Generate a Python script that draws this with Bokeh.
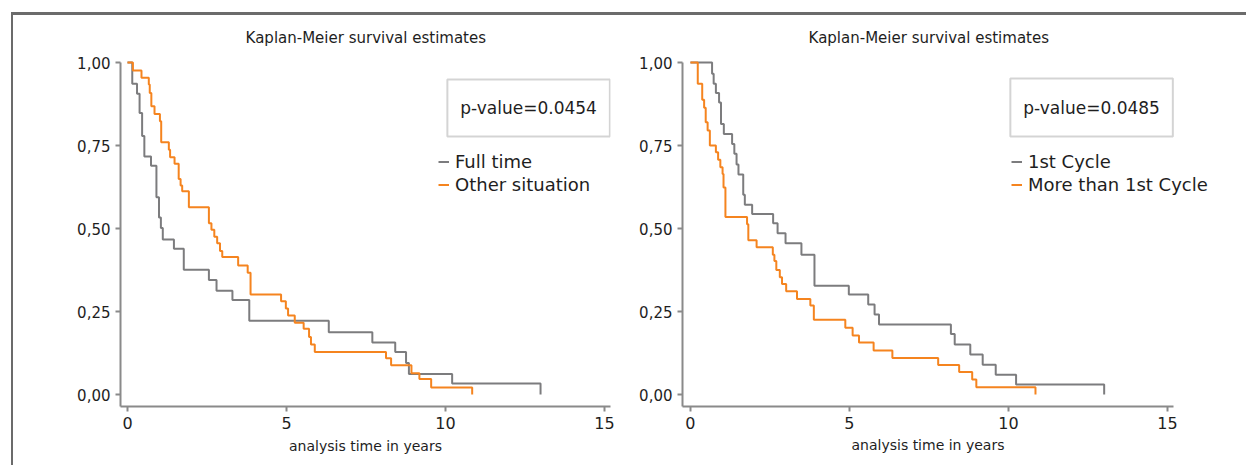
from bokeh.plotting import figure
from bokeh.layouts import row
from bokeh.models import (Range1d, FixedTicker, Legend, LegendItem,
                          BoxAnnotation, Label, Title)
from bokeh.embed import file_html
from bokeh.resources import INLINE

# ---- survival estimates (time in years, survivor function) ----
# Panel A: employment status
full_time_t = [0, 0.15, 0.30, 0.38, 0.46, 0.53, 0.74, 0.91, 0.99, 1.05, 1.11,
               1.46, 1.77, 2.56, 2.80, 3.30, 3.83, 6.33, 7.70, 8.42, 8.76,
               8.85, 10.21, 12.99]
full_time_s = [1.0, 0.936, 0.906, 0.848, 0.779, 0.717, 0.689, 0.594, 0.533,
               0.502, 0.467, 0.439, 0.376, 0.345, 0.313, 0.285, 0.222, 0.188,
               0.157, 0.128, 0.095, 0.062, 0.033, 0.0]

other_t = [0, 0.17, 0.44, 0.67, 0.70, 0.75, 0.85, 1.02, 1.06, 1.30, 1.34,
           1.48, 1.61, 1.67, 1.72, 1.93, 2.56, 2.64, 2.73, 2.82, 2.91, 2.98,
           3.48, 3.78, 3.87, 4.83, 4.98, 5.05, 5.26, 5.54, 5.71, 5.77, 5.89,
           8.13, 8.29, 8.93, 9.18, 9.55, 10.84]
other_s = [1.0, 0.976, 0.954, 0.934, 0.908, 0.868, 0.845, 0.823, 0.760,
           0.737, 0.715, 0.695, 0.649, 0.630, 0.612, 0.564, 0.516, 0.496,
           0.475, 0.456, 0.432, 0.414, 0.389, 0.367, 0.301, 0.281, 0.259,
           0.238, 0.216, 0.198, 0.173, 0.151, 0.128, 0.109, 0.088, 0.064,
           0.047, 0.021, 0.0]

# Panel B: treatment cycle
first_cycle_t = [0, 0.68, 0.73, 0.80, 0.90, 0.96, 1.05, 1.31, 1.38, 1.45,
                 1.51, 1.66, 1.71, 1.94, 2.60, 2.74, 2.99, 3.49, 3.90, 4.98,
                 5.59, 5.79, 5.93, 8.19, 8.31, 8.80, 9.19, 9.60, 10.24, 13.01]
first_cycle_s = [1.0, 0.966, 0.936, 0.908, 0.880, 0.815, 0.785, 0.755, 0.725,
                 0.693, 0.663, 0.602, 0.572, 0.544, 0.516, 0.486, 0.456,
                 0.421, 0.328, 0.301, 0.271, 0.241, 0.211, 0.182, 0.151,
                 0.121, 0.090, 0.060, 0.030, 0.0]

later_cycle_t = [0, 0.23, 0.37, 0.43, 0.48, 0.54, 0.61, 0.80, 0.87, 0.94,
                 1.01, 1.04, 1.10, 1.78, 1.82, 2.08, 2.59, 2.64, 2.70, 2.81,
                 2.88, 3.01, 3.35, 3.77, 3.88, 4.87, 5.10, 5.30, 5.76, 6.35,
                 7.79, 8.45, 8.86, 8.99, 10.85]
later_cycle_s = [1.0, 0.936, 0.888, 0.864, 0.820, 0.795, 0.750, 0.730, 0.707,
                 0.685, 0.664, 0.624, 0.535, 0.513, 0.465, 0.444, 0.421,
                 0.402, 0.375, 0.353, 0.333, 0.311, 0.288, 0.268, 0.225,
                 0.201, 0.178, 0.157, 0.133, 0.110, 0.089, 0.068, 0.045,
                 0.022, 0.0]

title_text = "Kaplan-Meier survival estimates"
x_label = "analysis time in years"
x_ticks = [0, 5, 10, 15]
y_ticks = [0, 0.25, 0.5, 0.75, 1.0]
y_tick_labels = ["0,00", "0,25", "0,50", "0,75", "1,00"]
p_values = ["p-value=0.0454", "p-value=0.0485"]
panel_a_labels = ["Full time", "Other situation"]
panel_b_labels = ["1st Cycle", "More than 1st Cycle"]

GREY = "#7c7c7e"
ORANGE = "#f5841f"
AXIS = "#8a8a8a"
TEXT = "#1e1e1e"
FONT = "DejaVu Sans"
X_START_A, X_START_B, X_AXIS_END = -0.22, -0.25, 15.19
Y_START, Y_AXIS_END, Y_END = -0.036, 1.0, 1.1417


def km_panel(width, border_left, border_right, x_start, x_end,
             series, labels, p_text, box, legend_xy, xlabel_offset=None):
    # the frame reaches the top of the canvas; the axes are bounded so the
    # title can sit inside the frame as a plain label
    p = figure(width=width, height=450,
               x_range=Range1d(x_start, x_end),
               y_range=Range1d(Y_START, Y_END),
               output_backend="svg", toolbar_location=None,
               min_border_left=border_left, min_border_right=border_right,
               min_border_top=0, min_border_bottom=59)
    p.outline_line_color = None
    p.xgrid.visible = False
    p.ygrid.visible = False
    p.background_fill_color = "white"
    p.border_fill_color = "white"

    p.add_layout(Label(x=(0 + X_AXIS_END) / 2 - 0.1, y=1.075,
                       text=title_text, text_align="center",
                       text_baseline="middle", text_font=FONT,
                       text_font_size="15px", text_color=TEXT))

    for ax in (p.xaxis, p.yaxis):
        ax.axis_line_color = AXIS
        ax.axis_line_width = 2
        ax.major_tick_line_color = AXIS
        ax.major_tick_line_width = 2
        ax.major_tick_out = 5
        ax.major_tick_in = 0
        ax.minor_tick_line_color = None
        ax.major_label_text_font = FONT
        ax.major_label_text_color = TEXT
        ax.major_label_standoff = 5

    p.xaxis.ticker = FixedTicker(ticks=x_ticks)
    p.xaxis.bounds = (x_start, X_AXIS_END)
    p.xaxis.major_label_text_font_size = "16px"
    if xlabel_offset is None:
        p.xaxis.axis_label = x_label
        p.xaxis.axis_label_text_font = FONT
        p.xaxis.axis_label_text_font_size = "14px"
        p.xaxis.axis_label_text_font_style = "normal"
        p.xaxis.axis_label_text_color = TEXT
        p.xaxis.axis_label_standoff = 6
    else:
        p.add_layout(Title(text=x_label, text_font=FONT,
                           text_font_size="14px", text_font_style="normal",
                           text_color=TEXT, align="left",
                           offset=xlabel_offset, standoff=6), "below")

    p.yaxis.ticker = FixedTicker(ticks=y_ticks)
    p.yaxis.bounds = (Y_START, Y_AXIS_END)
    p.yaxis.major_label_overrides = dict(zip(y_ticks, y_tick_labels))
    p.yaxis.major_label_text_font_size = "15px"

    items = []
    for (t, s), colour, lab in zip(series, (GREY, ORANGE), labels):
        r = p.step(t, s, mode="after", line_color=colour, line_width=2)
        items.append(LegendItem(label=lab, renderers=[r]))

    legend = Legend(items=items, location=legend_xy,
                    label_text_font=FONT, label_text_font_size="18px",
                    label_text_color=TEXT, label_height=23, glyph_height=23,
                    glyph_width=11, label_standoff=6, spacing=0, padding=0,
                    margin=0, border_line_color=None,
                    background_fill_alpha=0)
    p.add_layout(legend)

    left, right, bottom, top_y = box
    p.add_layout(BoxAnnotation(left=left, right=right, bottom=bottom,
                               top=top_y, fill_alpha=0, line_color="#6f6f6f",
                               line_width=2))
    p.add_layout(Label(x=(left + right) / 2, y=(bottom + top_y) / 2,
                       text=p_text, text_align="center",
                       text_baseline="middle", text_font=FONT,
                       text_font_size="17px", text_color=TEXT))
    return p


p1 = km_panel(607, 107, 10, X_START_A, X_AXIS_END,
              [(full_time_t, full_time_s), (other_t, other_s)],
              panel_a_labels, p_values[0],
              (10.06, 15.17, 0.777, 0.949), (318, 210))
# right panel: the frame runs on to the page edge so the legend is not cut,
# while the axis line and the axis title stay on the 0-15 span
p2 = km_panel(626, 62, 0, X_START_B, X_START_B + 564 / 31.8,
              [(first_cycle_t, first_cycle_s), (later_cycle_t, later_cycle_s)],
              panel_b_labels, p_values[1],
              (10.06, 15.17, 0.777, 0.952), (329, 210),
              xlabel_offset=169)

page = row(p1, p2, margin=(12, 0, 0, 11),
           styles={"border-top": "3px solid #6b6b6b",
                   "border-left": "2px solid #6b6b6b"})

open("out.html", "w").write(file_html(page, INLINE))
